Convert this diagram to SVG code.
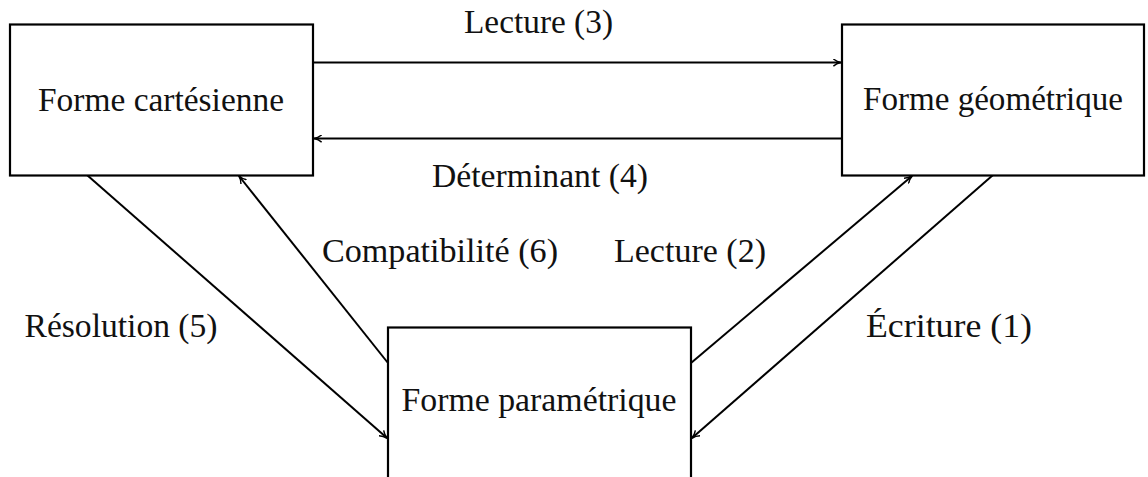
<svg xmlns="http://www.w3.org/2000/svg" width="1148" height="477" viewBox="0 0 1148 477">
<style>
.box{fill:#fff;stroke:#000;stroke-width:2.2}
.t{font-family:"Liberation Serif","Times New Roman",serif;font-size:33px;fill:#111;text-anchor:middle}
.c{stroke:#000;stroke-width:2;fill:none;marker-end:url(#ah)}
</style>
<defs>
<marker id="ah" viewBox="0 0 10 10" refX="9.5" refY="5" markerWidth="8" markerHeight="8" markerUnits="userSpaceOnUse" orient="auto">
<path d="M0,0.5 Q4,4 10,5 Q4,6 0,9.5" fill="none" stroke="#000" stroke-width="1.8"/>
</marker>
</defs>
<rect width="1148" height="477" fill="#fff"/>
<g id="connectors">
<line class="c" x1="313" y1="62.5" x2="841" y2="62.5"/>
<line class="c" x1="842" y1="138.5" x2="314" y2="138.5"/>
<line class="c" x1="87" y1="175" x2="387" y2="438"/>
<line class="c" x1="388" y1="363" x2="239" y2="176"/>
<line class="c" x1="691" y1="363" x2="912" y2="176"/>
<line class="c" x1="993" y1="175" x2="692" y2="438"/>
</g>
<g id="cartesienne">
<rect class="box" x="10" y="24.5" width="303" height="151"/>
<text class="t" x="161" y="111" textLength="246" lengthAdjust="spacingAndGlyphs">Forme cartésienne</text>
</g>
<g id="geometrique">
<rect class="box" x="842" y="24.5" width="302" height="151"/>
<text class="t" x="993" y="110" textLength="260" lengthAdjust="spacingAndGlyphs">Forme géométrique</text>
</g>
<g id="parametrique">
<rect class="box" x="388" y="327.5" width="303" height="151"/>
<text class="t" x="539" y="411" textLength="275" lengthAdjust="spacingAndGlyphs">Forme paramétrique</text>
</g>
<g id="labels">
<text class="t" x="538.5" y="33" textLength="149" lengthAdjust="spacingAndGlyphs">Lecture (3)</text>
<text class="t" x="540" y="187" textLength="216" lengthAdjust="spacingAndGlyphs">Déterminant (4)</text>
<text class="t" x="440" y="262" textLength="236" lengthAdjust="spacingAndGlyphs">Compatibilité (6)</text>
<text class="t" x="690" y="262" textLength="152" lengthAdjust="spacingAndGlyphs">Lecture (2)</text>
<text class="t" x="121" y="337" textLength="193" lengthAdjust="spacingAndGlyphs">Résolution (5)</text>
<text class="t" x="949" y="337" textLength="166" lengthAdjust="spacingAndGlyphs">Écriture (1)</text>
</g>
</svg>
